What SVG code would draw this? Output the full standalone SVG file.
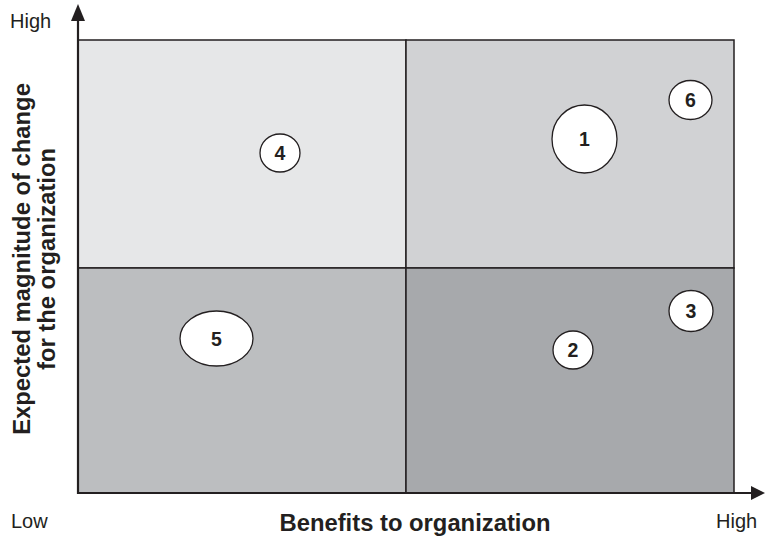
<svg xmlns="http://www.w3.org/2000/svg" width="767" height="539" viewBox="0 0 767 539">
<style>
.q{stroke:#231f20;stroke-width:1.5}
.b{fill:#fff;stroke:#231f20;stroke-width:1.3}
.n{font-family:"Liberation Sans",Arial,sans-serif;font-weight:bold;font-size:19.5px;fill:#231f20;text-anchor:middle}
.t{font-family:"Liberation Sans",Arial,sans-serif;font-size:20px;fill:#231f20}
.L{font-family:"Liberation Sans",Arial,sans-serif;font-weight:bold;font-size:23.8px;fill:#231f20;text-anchor:middle}
.ax{stroke:#231f20;stroke-width:2.2;fill:none}
</style>
<rect width="767" height="539" fill="#fff"/>
<g id="quadrants">
<rect id="q-tl" class="q" x="78" y="40" width="328" height="228" fill="#e6e7e8"/>
<rect id="q-tr" class="q" x="406" y="40" width="328" height="228" fill="#d1d2d4"/>
<rect id="q-bl" class="q" x="78" y="268" width="328" height="225" fill="#bcbec0"/>
<rect id="q-br" class="q" x="406" y="268" width="328" height="225" fill="#a7a9ac"/>
</g>
<g id="connectors">
<line class="ax" x1="78" y1="494" x2="78" y2="18"/>
<polygon points="78,4 71,21 85,21" fill="#231f20"/>
<line class="ax" x1="77" y1="493" x2="752" y2="493"/>
<polygon points="765,493 751,486 751,500" fill="#231f20"/>
</g>
<g id="n1"><ellipse class="b" cx="584.5" cy="139" rx="32.5" ry="34"/><text class="n" x="584.5" y="146">1</text></g>
<g id="n2"><ellipse class="b" cx="573" cy="350" rx="20" ry="19"/><text class="n" x="573" y="357">2</text></g>
<g id="n3"><ellipse class="b" cx="691" cy="311" rx="22" ry="20.5"/><text class="n" x="691" y="318">3</text></g>
<g id="n4"><ellipse class="b" cx="280" cy="153" rx="20" ry="19"/><text class="n" x="280" y="160">4</text></g>
<g id="n5"><ellipse class="b" cx="216.5" cy="338.5" rx="36.5" ry="27.5"/><text class="n" x="216.5" y="345.5">5</text></g>
<g id="n6"><ellipse class="b" cx="690.5" cy="100" rx="21.5" ry="19.5"/><text class="n" x="690.5" y="107">6</text></g>
<g id="labels">
<text class="t" x="10" y="28">High</text>
<text class="t" x="11" y="528">Low</text>
<text class="t" x="716" y="528">High</text>
<text class="L" x="415" y="531">Benefits to organization</text>
<text class="L" transform="translate(30,259) rotate(-90)">Expected magnitude of change<tspan x="0" y="25">for the organization</tspan></text>
</g>
</svg>
